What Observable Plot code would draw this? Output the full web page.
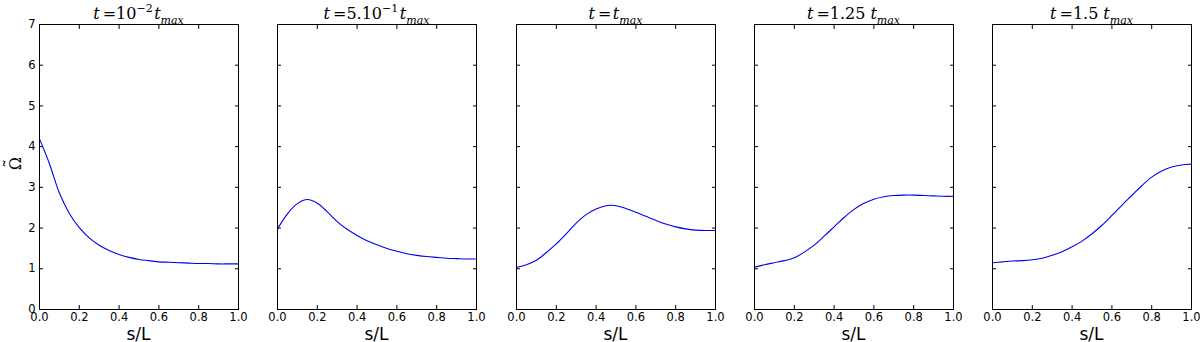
<!DOCTYPE html>
<html><head><meta charset="utf-8">
<script src="https://cdn.jsdelivr.net/npm/d3@7"></script>
<script src="https://cdn.jsdelivr.net/npm/@observablehq/plot@0.6"></script>
<style>
body{margin:0;background:#fff}
#chart{position:relative;width:1200px;height:342px;overflow:hidden;background:#fff}
#chart svg.panel{position:absolute;top:0}
#overlay{position:absolute;left:0;top:0}
</style>
</head><body>
<div id="chart"></div>
<script>
// ---- data ----
const s = [0,0.05,0.1,0.15,0.2,0.25,0.3,0.35,0.4,0.45,0.5,0.55,0.6,0.65,0.7,0.75,0.8,0.85,0.9,0.95,1.0];
const omega1 = [4.19,3.58,2.86,2.36,2.01,1.76,1.58,1.45,1.35,1.28,1.23,1.20,1.17,1.16,1.15,1.14,1.13,1.13,1.12,1.12,1.12];
const omega2 = [1.98,2.35,2.60,2.70,2.61,2.40,2.16,1.97,1.82,1.69,1.59,1.50,1.43,1.37,1.33,1.30,1.28,1.26,1.25,1.24,1.24];
const omega3 = [1.03,1.10,1.21,1.40,1.61,1.86,2.12,2.33,2.47,2.55,2.55,2.48,2.39,2.29,2.19,2.10,2.03,1.98,1.95,1.94,1.94];
const omega4 = [1.04,1.10,1.15,1.20,1.27,1.41,1.58,1.80,2.03,2.26,2.46,2.61,2.71,2.77,2.80,2.81,2.81,2.80,2.79,2.78,2.78];
const omega5 = [1.15,1.17,1.19,1.20,1.22,1.26,1.33,1.42,1.54,1.68,1.86,2.07,2.31,2.56,2.80,3.04,3.25,3.40,3.50,3.55,3.57];
// title pieces: "t = <main><sup> t_max"
const titleMain = ["10", "5.10", "", "1.25", "1.5"];
const titleSup  = ["\u22122", "\u22121", "", "", ""];
const xTicks = [0,0.2,0.4,0.6,0.8,1.0];
const yTicks = [0,1,2,3,4,5,6,7];
const xLabel = "s/L";
const yLabel = "\u03A9";
const yLabelAccent = "\u02DC";

const series = [omega1, omega2, omega3, omega4, omega5];

// ---- layout ----
const H = 342, mTop = 24, mBottom = 33, plotW = 199;
const chart = document.getElementById("chart");

series.forEach((om, i) => {
  const rows = s.map((v, k) => ({s: v, omega: om[k]}));
  const left = Math.round(39.3 + 238.1 * i);
  const mL = i === 0 ? 39 : 4, mR = 4;
  const marks = [
    Plot.line(rows, {x: "s", y: "omega", stroke: "#0000ee", strokeWidth: 1.1, curve: "catmull-rom"}),
    Plot.frame({stroke: "#000", strokeWidth: 1}),
    Plot.axisX(xTicks, {anchor: "bottom", tickSize: -4, fill: "none", label: null}),
    Plot.axisX(xTicks, {anchor: "top", tickSize: -4, fill: "none", label: null}),
    Plot.axisY(yTicks, {anchor: "left", tickSize: -4, fill: "none", label: null}),
    Plot.axisY(yTicks, {anchor: "right", tickSize: -4, fill: "none", label: null}),
    Plot.axisX(xTicks, {anchor: "bottom", tickSize: 0, tickPadding: 3, stroke: "none", fill: "#000", tickFormat: d3.format(".1f"), label: null})
  ];
  if (i === 0) marks.push(Plot.axisY(yTicks, {anchor: "left", tickSize: 0, tickPadding: 4, stroke: "none", fill: "#000", tickFormat: d3.format("d"), label: null}));
  const svg = Plot.plot({
    width: mL + plotW + mR, height: H,
    marginTop: mTop, marginBottom: mBottom, marginLeft: mL, marginRight: mR,
    x: {domain: [0, 1]},
    y: {domain: [0, 7]},
    style: {fontFamily: "DejaVu Sans", fontSize: "11.5px", color: "#000", background: "transparent", overflow: "visible"},
    marks
  });
  svg.classList.add("panel");
  svg.style.left = (left - mL) + "px";
  chart.appendChild(svg);
});

// ---- titles and axis labels (overlay) ----
const ov = d3.select(chart).append("svg").attr("id", "overlay")
  .attr("width", 1200).attr("height", H).style("overflow", "visible");
series.forEach((om, i) => {
  const left = Math.round(39.3 + 238.1 * i);
  const cx = left + plotW / 2;
  const t = ov.append("text").attr("x", cx).attr("y", 18.5)
    .attr("text-anchor", "middle")
    .attr("font-family", "'DejaVu Serif', serif").attr("font-size", 16);
  t.append("tspan").attr("font-style", "italic").text("t");
  t.append("tspan").attr("dx", 3).text("=" + titleMain[i]);
  let shift = 0;
  if (titleSup[i]) {
    t.append("tspan").attr("dy", -6.5).attr("font-size", 11).text(titleSup[i]);
    shift = 6.5;
  }
  t.append("tspan").attr("dy", shift).attr("font-style", "italic")
    .attr("dx", titleMain[i] && !titleSup[i] ? 5 : 1.5).text("t");
  t.append("tspan").attr("dy", 5).attr("font-size", 11).attr("font-style", "italic").text("max");

  ov.append("text").attr("x", cx).attr("y", 339.5).attr("text-anchor", "middle")
    .attr("font-family", "'DejaVu Sans', sans-serif").attr("font-size", 17).text(xLabel);
});
const yl = ov.append("g").attr("transform", "translate(20.5,163.5) rotate(-90)")
  .attr("font-family", "'DejaVu Serif', serif");
yl.append("text").attr("text-anchor", "middle").attr("font-size", 16).text(yLabel);
yl.append("text").attr("text-anchor", "middle").attr("y", -3.5).attr("font-size", 18).text(yLabelAccent);
</script>
</body></html>
